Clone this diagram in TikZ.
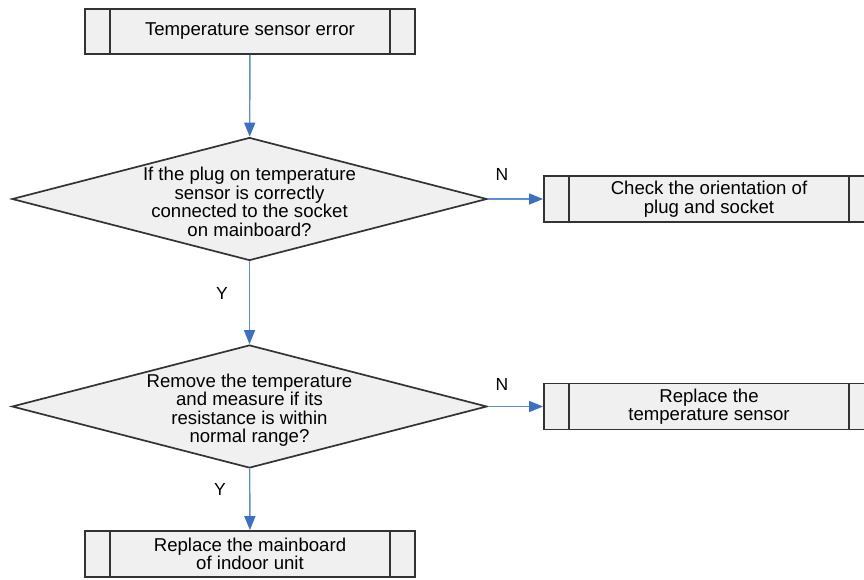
\documentclass[tikz,border=0pt]{standalone}
\usepackage{fontspec}
\setmainfont{Liberation Sans}
\usetikzlibrary{shapes.geometric,arrows.meta}
\definecolor{boxfill}{HTML}{F0F0F0}
\definecolor{edgecol}{HTML}{333333}
\definecolor{arrowcol}{HTML}{5B8ED6}
\definecolor{tipcol}{HTML}{3C6FC8}
\begin{document}
\begin{tikzpicture}[x=1pt,y=-1pt,
  procbox/.style={rectangle, draw=edgecol, line width=1.8pt, fill=boxfill,
    minimum width=330pt, minimum height=45pt, inner sep=0pt, align=center,
    font=\fontsize{18.6}{18.5}\selectfont,
    path picture={\draw[edgecol,line width=1.8pt]
      ([xshift=25pt]path picture bounding box.north west) -- ([xshift=25pt]path picture bounding box.south west)
      ([xshift=-25pt]path picture bounding box.north east) -- ([xshift=-25pt]path picture bounding box.south east);}},
  decision/.style={diamond, draw=edgecol, line width=1.7pt, fill=boxfill,
    minimum width=475pt, minimum height=123pt, inner sep=0pt},
  dtext/.style={align=center, inner sep=0pt, font=\fontsize{18.6}{18.5}\selectfont},
  lbl/.style={font=\fontsize{17.5}{17.5}\selectfont, inner sep=0pt},
  flow/.style={draw=arrowcol, line width=1.4pt,
    -{Triangle[length=14pt,width=11pt,fill=tipcol,color=tipcol]}}]
\useasboundingbox (0,0) rectangle (864,579);
\clip (0,0) rectangle (864,579);

\node[procbox] (start) at (250,31.5) {Temperature sensor error};
\node[decision] (d1) at (249.5,199) {};
\node[dtext] (t1) at (249.5,202) {If the plug on temperature\\sensor is correctly\\connected to the socket\\on mainboard?};
\node[procbox, minimum height=46pt] (r1) at (709,199) {Check the orientation of\\plug and socket};
\node[decision] (d2) at (249.5,406.5) {};
\node[dtext] (t2) at (249.5,410) {Remove the temperature\\and measure if its\\resistance is within\\normal range?};
\node[procbox, minimum height=46pt] (r2) at (709,406.5) {Replace the\\temperature sensor};
\node[procbox, minimum height=46pt] (endb) at (250,554) {Replace the mainboard\\of indoor unit};

\draw[flow] (start) -- (d1);
\draw[flow] (d1) -- (d2);
\draw[flow] (d2) -- (endb);
\draw[flow] (d1.east) -- (r1.west);
\draw[flow] (d2.east) -- (r2.west);

\node[lbl] (n1) at (502,174) {N};
\node[lbl] (n2) at (502,384) {N};
\node[lbl] (y1) at (222,293) {Y};
\node[lbl] (y2) at (220,489) {Y};
\end{tikzpicture}
\end{document}
